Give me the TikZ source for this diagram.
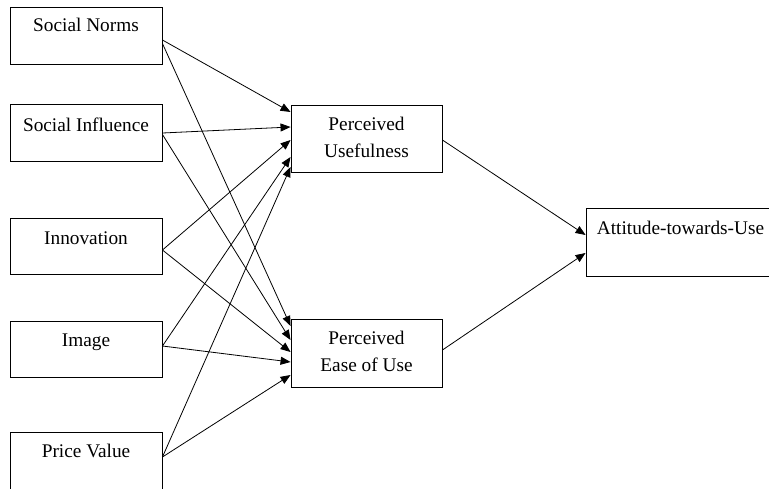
\documentclass[tikz,border=0pt]{standalone}
\usepackage{fontspec}
\setmainfont{Liberation Serif}
\usetikzlibrary{arrows.meta,calc}
\begin{document}
\begin{tikzpicture}[x=1pt,y=-1pt,
  box/.style={draw, line width=0.9pt, minimum width=#1, inner sep=0pt},
  lbl/.style={font=\fontsize{19.3}{27}\selectfont, align=center, inner sep=0pt},
  conn/.style={line width=0.8pt, -{Triangle[length=10pt,width=8pt]}}]
\useasboundingbox (0,0) rectangle (769,488);
\clip (0,0) rectangle (769,488);
% left boxes
\node[box=152pt, minimum height=57pt] (sn) at (86,35.5) {};
\node[lbl] (snl) at (86,25) {Social Norms};
\node[box=152pt, minimum height=57pt] (si) at (86,132.5) {};
\node[lbl] (sil) at (86,125) {Social Influence};
\node[box=152pt, minimum height=56pt] (in) at (86,246) {};
\node[lbl] (inl) at (86,238) {Innovation};
\node[box=152pt, minimum height=56pt] (im) at (86,349) {};
\node[lbl] (iml) at (86,342) {Image};
\node[box=152pt, minimum height=58pt] (pv) at (86,461) {};
\node[lbl] (pvl) at (86,451) {Price Value};
% middle boxes
\node[box=151pt, minimum height=67pt] (pu) at (366.5,138.5) {};
\node[lbl] (pul) at (366.5,137) {Perceived\\Usefulness};
\node[box=151pt, minimum height=68pt] (pe) at (366.5,353) {};
\node[lbl] (pel) at (366.5,351.5) {Perceived\\Ease of Use};
% right box
\node[box=230pt, minimum height=68pt] (at) at (701,242) {};
\node[lbl] (atl) at (680.5,228) {Attitude-towards-Use};
% connectors to PU
\draw[conn] ($(sn.east)+(0,4.5)$) -- ($(pu.west)+(0,-26.5)$);
\draw[conn] ($(si.east)+(0,0.5)$) -- ($(pu.west)+(0,-11.5)$);
\draw[conn] ($(in.east)+(0,4)$) -- ($(pu.west)+(0,1.5)$);
\draw[conn] ($(im.east)+(0,-3)$) -- ($(pu.west)+(0,18.5)$);
\draw[conn] ($(pv.east)+(0,-4)$) -- ($(pu.west)+(0,28.5)$);
% connectors to PE
\draw[conn] ($(sn.east)+(0,8)$) -- ($(pe.west)+(0,-27)$);
\draw[conn] ($(si.east)+(0,2)$) -- ($(pe.west)+(0,-13)$);
\draw[conn] ($(in.east)+(0,4)$) -- ($(pe.west)+(0,-1)$);
\draw[conn] ($(im.east)+(0,-3)$) -- ($(pe.west)+(0,9)$);
\draw[conn] ($(pv.east)+(0,-4)$) -- ($(pe.west)+(0,22)$);
% connectors to attitude
\draw[conn] ($(pu.east)+(0,1.5)$) -- ($(at.west)+(0,-7)$);
\draw[conn] ($(pe.east)+(0,-3)$) -- ($(at.west)+(0,11)$);
\end{tikzpicture}
\end{document}
